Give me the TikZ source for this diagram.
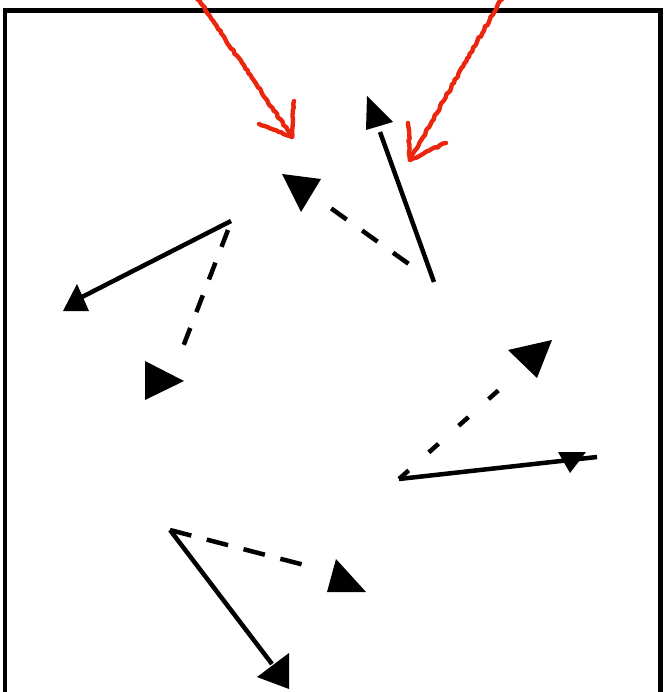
\documentclass[tikz,border=0pt]{standalone}
\usetikzlibrary{calc,decorations.pathmorphing}
\definecolor{redc}{RGB}{234,38,14}
\begin{document}
\begin{tikzpicture}[x=1pt,y=-1pt,
  frame/.style={draw=black,line width=4.5pt},
  solidvec/.style={draw=black,line width=4.5pt},
  dashvec/.style={draw=black,line width=4.5pt},
  headfill/.style={fill=black},
  redmark/.style={draw=redc,line width=4.4pt,line cap=round,line join=round,
     decorate,decoration={random steps,segment length=3pt,amplitude=0.9pt}}]
\useasboundingbox (0,0) rectangle (666,692);
% frame
\draw[frame] (5,720) -- (5,10.5) -- (660.5,10.5) -- (660.5,720);

% red arrows
\coordinate (r1s) at (196,-4);
\coordinate (r1t) at (292,137);
\coordinate (r1a) at (259,124);
\coordinate (r1b) at (294,101);
\draw[redmark] (r1s) -- (r1t);
\draw[redmark] (r1a) -- (r1t) -- (r1b);
\coordinate (r2s) at (503,-4);
\coordinate (r2t) at (410,160);
\coordinate (r2a) at (408,123);
\coordinate (r2b) at (446,143);
\draw[redmark] (r2s) -- (r2t);
\draw[redmark] (r2a) -- (r2t) -- (r2b);

% cluster A
\coordinate (oA) at (434,282);
\coordinate (hA1) at (380,132);
\coordinate (hA2) at (318,199);
\coordinate (dA) at ($(oA)!0.22!(hA2)$);
\draw[solidvec] (oA) -- (hA1);
\fill[headfill] (367,96) -- (393,122) -- (366,130) -- cycle;
\draw[dashvec,dash pattern=on 19pt off 19pt] (dA) -- (hA2);
\fill[headfill] (282,174) -- (321,179) -- (301,212) -- cycle;

% cluster B
\coordinate (oB) at (231,221);
\coordinate (hB1) at (80,298);
\coordinate (hB2) at (181,352);
\draw[solidvec] (oB) -- (hB1);
\fill[headfill] (63,311) -- (89,311) -- (77,284) -- cycle;
\draw[dashvec,dash pattern=on 18pt off 17pt] ($(oB)+(-3,9)$) -- (hB2);
\fill[headfill] (145,361) -- (145,400) -- (184,381) -- cycle;

% cluster C
\coordinate (oC) at (399,479);
\coordinate (eC) at (597,457);
\coordinate (hC2) at (510,380);
\draw[solidvec] (oC) -- (eC);
\fill[headfill] (558,452) -- (586,452) -- (570,473) -- cycle;
\draw[dashvec,dash pattern=on 13pt off 27pt] (oC) -- (hC2);
\fill[headfill] (508,350) -- (552,340) -- (537,378) -- cycle;

% cluster D
\coordinate (oD) at (170,530);
\coordinate (hD1) at (272,664);
\coordinate (hD2) at (312,567);
\draw[solidvec] (oD) -- (hD1);
\fill[headfill] (289,653) -- (289,689) -- (257,677) -- cycle;
\draw[dashvec,dash pattern=on 22pt off 16pt] (oD) -- (hD2);
\fill[headfill] (336,559) -- (327,592) -- (366,592) -- cycle;
\end{tikzpicture}
\end{document}
